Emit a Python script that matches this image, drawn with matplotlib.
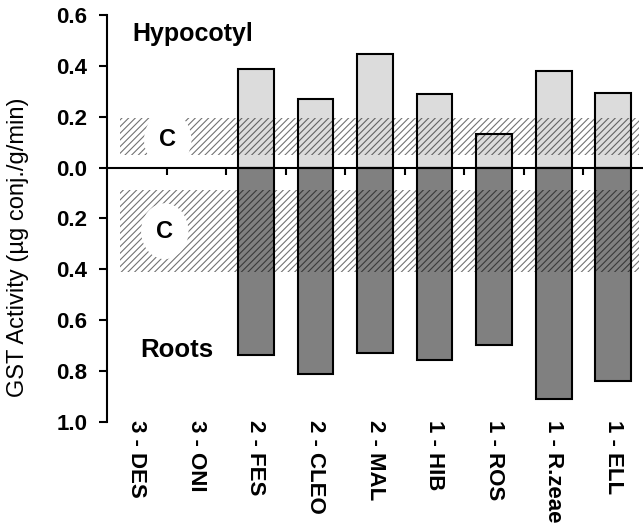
import matplotlib
matplotlib.use('Agg')
import matplotlib.pyplot as plt
import matplotlib.transforms as mtransforms
from matplotlib.patches import Rectangle
import numpy as np

plt.rcParams['font.family'] = ['Liberation Sans', 'DejaVu Sans']
plt.rcParams['hatch.linewidth'] = 0.8

categories = ['3 - DES', '3 - ONI', '2 - FES', '2 - CLEO', '2 - MAL',
              '1 - HIB', '1 - ROS', '1 - R.zeae', '1 - ELL']
hypocotyl = [np.nan, np.nan, 0.389, 0.269, 0.445, 0.289, 0.134, 0.381, 0.295]
roots = [np.nan, np.nan, 0.736, 0.811, 0.729, 0.756, 0.696, 0.910, 0.838]
control_hyp = (0.049, 0.196)
control_root = (0.089, 0.411)
ytick_vals = [0.6, 0.4, 0.2, 0.0, -0.2, -0.4, -0.6, -0.8, -1.0]

fig = plt.figure(figsize=(6.43, 5.30), dpi=100)
ax = fig.add_axes([107 / 643, 108 / 530, 536 / 643, 407 / 530])

x = np.arange(len(categories))
ax.bar(x, hypocotyl, width=0.6, color='#dcdcdc', edgecolor='black',
       linewidth=1.5, zorder=2)
ax.bar(x, -np.array(roots), width=0.6, color='#808080', edgecolor='black',
       linewidth=1.5, zorder=2)

# control (hatched) bands
for lo, hi in [(control_hyp[0], control_hyp[1]),
               (-control_root[1], -control_root[0])]:
    ax.add_patch(Rectangle((-0.28, lo), 8.71, hi - lo, facecolor='none',
                           edgecolor=(0, 0, 0, 0.55), hatch='/////',
                           linewidth=0, zorder=3))

cbox = dict(boxstyle='ellipse,pad=0.35', fc='white', ec='none')
ax.text(0.52, 0.11, 'C', fontsize=17, fontweight='bold', ha='center',
        va='center', bbox=cbox, zorder=4)
ax.text(0.47, -0.25, 'C', fontsize=17, fontweight='bold', ha='center',
        va='center', bbox=cbox, zorder=4)

ax.text(-0.08, 0.525, 'Hypocotyl', fontsize=18, fontweight='bold',
        ha='left', va='center')
ax.text(0.05, -0.717, 'Roots', fontsize=18.5, fontweight='bold',
        ha='left', va='center')

ax.set_xlim(-0.5, 8.5)
ax.set_ylim(-1.0, 0.6)

for s in ['top', 'right']:
    ax.spines[s].set_visible(False)
ax.spines['bottom'].set_position(('data', 0))
ax.spines['bottom'].set_linewidth(1.5)
ax.spines['bottom'].set_zorder(5)
ax.spines['left'].set_linewidth(1.5)

ax.set_xticks(x[:-1] + 0.5)
ax.set_xticklabels([])
ax.tick_params(axis='x', direction='out', length=5, width=1.5)

ax.set_yticks(ytick_vals)
ax.set_yticklabels([f'{abs(v):.1f}' for v in ytick_vals],
                   fontsize=16, fontweight='bold')
ax.tick_params(axis='y', direction='out', length=6, width=1.5, pad=8)

trans = mtransforms.blended_transform_factory(ax.transData, ax.transAxes)
for i, c in enumerate(categories):
    ax.text(i, 0.004, c, transform=trans, rotation=270, ha='center',
            va='top', fontsize=16, fontweight='bold', clip_on=False)

ax.set_ylabel('GST Activity (µg conj./g/min)', fontsize=17)
ax.yaxis.set_label_coords(-0.146, 0.43)

fig.savefig('out.png', dpi=100)
